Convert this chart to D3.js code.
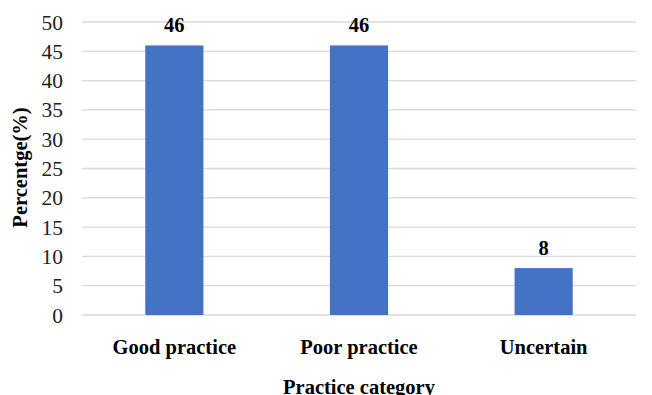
<!DOCTYPE html>
<html><head><meta charset="utf-8">
<script src="https://cdn.jsdelivr.net/npm/d3@7"></script>
<style>body{margin:0;background:#fff}svg{display:block}</style>
</head><body>
<script>
const categories = ["Good practice", "Poor practice", "Uncertain"];
const values = [46, 46, 8];
const yTicks = [0, 5, 10, 15, 20, 25, 30, 35, 40, 45, 50];

const W = 652, H = 395;
const m = {left: 82, right: 16, top: 22, bottom: 80};
const svg = d3.select("body").append("svg").attr("width", W).attr("height", H);
const font = "'Liberation Serif','Times New Roman',serif";

const x = d3.scaleBand().domain(categories).range([m.left, W - m.right]).paddingInner(0.685).paddingOuter(0.3425);
const y = d3.scaleLinear().domain([0, 50]).range([H - m.bottom, m.top]);

const g = svg.append("g");
g.selectAll("line.grid").data(yTicks).join("line")
  .attr("x1", m.left).attr("x2", W - m.right)
  .attr("y1", d => y(d)).attr("y2", d => y(d))
  .attr("stroke", "#d9d9d9").attr("stroke-width", 1.3);

g.selectAll("text.yt").data(yTicks).join("text")
  .attr("x", 63).attr("y", d => y(d)).attr("dy", "0.35em")
  .attr("text-anchor", "end").attr("font-family", font).attr("font-size", 21.5)
  .attr("fill", "#222").text(d => d);

g.selectAll("rect").data(values).join("rect")
  .attr("x", (d, i) => x(categories[i])).attr("width", x.bandwidth())
  .attr("y", d => y(d)).attr("height", d => y(0) - y(d))
  .attr("fill", "#4472C4");

g.selectAll("text.val").data(values).join("text")
  .attr("x", (d, i) => x(categories[i]) + x.bandwidth() / 2).attr("y", d => y(d) - 13)
  .attr("text-anchor", "middle").attr("font-family", font).attr("font-size", 20.5)
  .attr("font-weight", "bold").text(d => d);

g.selectAll("text.cat").data(categories).join("text")
  .attr("x", d => x(d) + x.bandwidth() / 2).attr("y", 354)
  .attr("text-anchor", "middle").attr("font-family", font).attr("font-size", 20.5)
  .attr("font-weight", "bold").text(d => d);

svg.append("text").attr("x", (m.left + W - m.right) / 2).attr("y", 394)
  .attr("text-anchor", "middle").attr("font-family", font).attr("font-size", 20.5)
  .attr("font-weight", "bold").text("Practice category");

svg.append("text").attr("transform", `translate(27,${(y(0) + y(50)) / 2 - 1}) rotate(-90)`)
  .attr("text-anchor", "middle").attr("font-family", font).attr("font-size", 20.5)
  .attr("font-weight", "bold").text("Percentge(%)");
</script>
</body></html>
